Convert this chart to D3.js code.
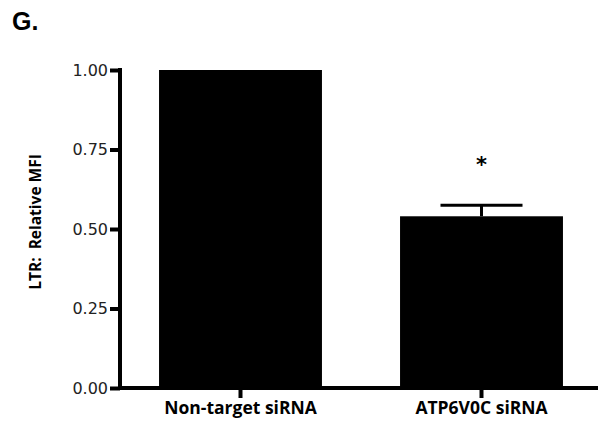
<!DOCTYPE html>
<html lang="en">
<head>
	<meta charset="utf-8">
	<script src="https://d3js.org/d3.v7.min.js"></script>
	<style>
		body { margin: 0; background: #fff; }
	</style>
</head>
<body>
	<script type="text/javascript">
		// Chart data
		var categories = ["Non-target siRNA", "ATP6V0C siRNA"];
		var values = [1.00, 0.54];
		var errors = [0, 0.035];
		var significance = ["", "*"];
		var yTicks = [0, 0.25, 0.5, 0.75, 1.0];

		var width = 598;
		var height = 423;
		var margin = { top: 70, right: 0, bottom: 35, left: 120 };

		var svg = d3.select("body")
			.append("svg")
			.attr("width", width)
			.attr("height", height);

		// scales
		var x = d3.scaleBand()
			.domain(categories)
			.range([margin.left, 602])
			.paddingInner(0.324)
			.paddingOuter(0.162);

		var y = d3.scaleLinear()
			.domain([0, 1])
			.range([height - margin.bottom, margin.top]);

		// panel letter
		svg.append("text")
			.attr("x", 12)
			.attr("y", 30)
			.style("font-family", "'Liberation Sans', Arial, sans-serif")
			.style("font-weight", "bold")
			.style("font-size", "25px")
			.text("G.");

		// bars
		svg.selectAll("rect.bar")
			.data(values)
			.enter()
			.append("rect")
			.attr("class", "bar")
			.attr("x", function(d, i) { return x(categories[i]); })
			.attr("y", function(d) { return y(d); })
			.attr("width", x.bandwidth())
			.attr("height", function(d) { return y(0) - y(d); })
			.style("fill", "#000");

		// error bars (upper only); zero-length ones are skipped
		var errG = svg.selectAll("g.err")
			.data(values)
			.enter()
			.append("g")
			.attr("class", "err")
			.style("display", function(d, i) { return errors[i] > 0 ? null : "none"; });

		errG.append("line")
			.attr("x1", function(d, i) { return x(categories[i]) + x.bandwidth() / 2; })
			.attr("x2", function(d, i) { return x(categories[i]) + x.bandwidth() / 2; })
			.attr("y1", function(d) { return y(d); })
			.attr("y2", function(d, i) { return y(d + errors[i]); })
			.style("stroke", "#000")
			.style("stroke-width", 3);

		errG.append("line")
			.attr("x1", function(d, i) { return x(categories[i]) + x.bandwidth() / 2 - 41; })
			.attr("x2", function(d, i) { return x(categories[i]) + x.bandwidth() / 2 + 41; })
			.attr("y1", function(d, i) { return y(d + errors[i]); })
			.attr("y2", function(d, i) { return y(d + errors[i]); })
			.style("stroke", "#000")
			.style("stroke-width", 3);

		// significance stars
		svg.selectAll("text.sig")
			.data(significance)
			.enter()
			.append("text")
			.attr("class", "sig")
			.attr("x", function(d, i) { return x(categories[i]) + x.bandwidth() / 2; })
			.attr("y", function(d, i) { return y(values[i] + errors[i]) - 33; })
			.attr("text-anchor", "middle")
			.style("font-family", "'DejaVu Sans', sans-serif")
			.style("font-weight", "bold")
			.style("font-size", "21px")
			.text(function(d) { return d; });

		// y axis
		var yAxis = d3.axisLeft(y)
			.tickValues(yTicks)
			.tickFormat(d3.format(".2f"))
			.tickSizeOuter(0)
			.tickSize(10)
			.tickPadding(2);

		var gy = svg.append("g")
			.attr("transform", "translate(" + margin.left + ",0)")
			.call(yAxis);
		gy.select(".domain")
			.attr("d", "M0," + (y(1) - 2) + "V" + (y(0) + 2))
			.style("stroke-width", 4);
		gy.selectAll(".tick line").style("stroke-width", 4);
		gy.selectAll(".tick text")
			.style("font-family", "'DejaVu Sans', Verdana, sans-serif")
			.style("font-size", "16px")
			.style("fill", "#222");

		// x axis
		var xAxis = d3.axisBottom(x)
			.tickSize(10)
			.tickSizeOuter(0)
			.tickPadding(4);

		var gx = svg.append("g")
			.attr("transform", "translate(0," + y(0) + ")")
			.call(xAxis);
		gx.select(".domain")
			.attr("d", "M" + margin.left + ",0H" + width)
			.style("stroke-width", 4);
		gx.selectAll(".tick line").style("stroke-width", 4);
		gx.selectAll(".tick text")
			.style("font-family", "'Open Sans', sans-serif")
			.style("font-weight", "bold")
			.style("font-size", "17.5px")
			.style("fill", "#000");

		// y label (two spaces after the colon, as in the original)
		svg.append("text")
			.attr("transform", "translate(41,222) rotate(-90)")
			.attr("text-anchor", "middle")
			.style("font-family", "'Open Sans', sans-serif")
			.style("font-weight", "bold")
			.style("font-size", "15.5px")
			.text("LTR:\u00a0 Relative MFI");
	</script>
</body>
</html>
